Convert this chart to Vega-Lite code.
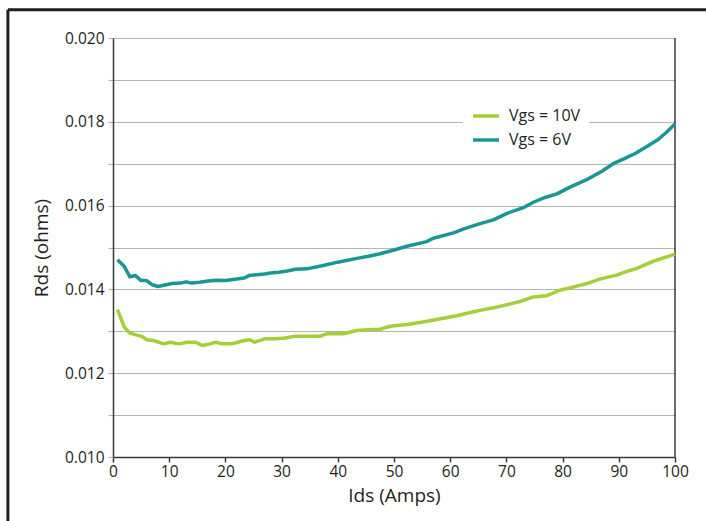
{
  "$schema": "https://vega.github.io/schema/vega-lite/v6.json",
  "width": 562,
  "height": 419,
  "autosize": {"type": "none"},
  "padding": {"left": 113, "top": 38, "right": 31, "bottom": 64},
  "background": "white",
  "config": {
    "view": {"stroke": null},
    "font": "Open Sans",
    "axis": {"labelFont": "Open Sans", "titleFont": "Open Sans", "labelColor": "#231f20", "titleColor": "#231f20", "labelFontSize": 15.5, "titleFontSize": 19, "titleFontWeight": "normal"},
    "legend": {"labelFont": "Open Sans", "labelFontSize": 16, "labelColor": "#231f20"}
  },
  "layer": [
    {
      "data": {"values": [{}]},
      "mark": {"type": "rule", "color": "#231f20", "strokeWidth": 3, "clip": false},
      "encoding": {
        "x": {"datum": -18.7, "type": "quantitative"},
        "x2": {"datum": 106},
        "y": {"datum": 0.020675, "type": "quantitative"}
      }
    },
    {
      "data": {"values": [{}]},
      "mark": {"type": "rule", "color": "#231f20", "strokeWidth": 3, "clip": false},
      "encoding": {
        "x": {"datum": -18.7, "type": "quantitative"},
        "y": {"datum": 0.020675, "type": "quantitative"},
        "y2": {"datum": 0.0078}
      }
    },
    {
      "data": {"values": [{}]},
      "mark": {"type": "rule", "color": "#3a3a3a", "strokeWidth": 1.5, "clip": false},
      "encoding": {
        "x": {"datum": 100, "type": "quantitative"},
        "y": {"datum": 0.010, "type": "quantitative"},
        "y2": {"datum": 0.020}
      }
    },
    {
      "data": {
        "values": [
          {"ids": 0.8, "rds": 0.01352, "series": "Vgs = 10V"},
          {"ids": 1.25, "rds": 0.01336, "series": "Vgs = 10V"},
          {"ids": 2, "rds": 0.01310, "series": "Vgs = 10V"},
          {"ids": 3, "rds": 0.01296, "series": "Vgs = 10V"},
          {"ids": 3.9, "rds": 0.01292, "series": "Vgs = 10V"},
          {"ids": 5.1, "rds": 0.01288, "series": "Vgs = 10V"},
          {"ids": 6, "rds": 0.01280, "series": "Vgs = 10V"},
          {"ids": 7.2, "rds": 0.01278, "series": "Vgs = 10V"},
          {"ids": 9, "rds": 0.01270, "series": "Vgs = 10V"},
          {"ids": 10.2, "rds": 0.01274, "series": "Vgs = 10V"},
          {"ids": 11.7, "rds": 0.01270, "series": "Vgs = 10V"},
          {"ids": 13.2, "rds": 0.01274, "series": "Vgs = 10V"},
          {"ids": 14.7, "rds": 0.01274, "series": "Vgs = 10V"},
          {"ids": 15.9, "rds": 0.01266, "series": "Vgs = 10V"},
          {"ids": 17.2, "rds": 0.01270, "series": "Vgs = 10V"},
          {"ids": 18.3, "rds": 0.01274, "series": "Vgs = 10V"},
          {"ids": 19.5, "rds": 0.01270, "series": "Vgs = 10V"},
          {"ids": 21, "rds": 0.01270, "series": "Vgs = 10V"},
          {"ids": 22.2, "rds": 0.01274, "series": "Vgs = 10V"},
          {"ids": 23.4, "rds": 0.01278, "series": "Vgs = 10V"},
          {"ids": 24.3, "rds": 0.01280, "series": "Vgs = 10V"},
          {"ids": 25.2, "rds": 0.01274, "series": "Vgs = 10V"},
          {"ids": 27, "rds": 0.01282, "series": "Vgs = 10V"},
          {"ids": 28.8, "rds": 0.01282, "series": "Vgs = 10V"},
          {"ids": 30.6, "rds": 0.01284, "series": "Vgs = 10V"},
          {"ids": 32.4, "rds": 0.01288, "series": "Vgs = 10V"},
          {"ids": 34.5, "rds": 0.01288, "series": "Vgs = 10V"},
          {"ids": 36.8, "rds": 0.01288, "series": "Vgs = 10V"},
          {"ids": 38, "rds": 0.01294, "series": "Vgs = 10V"},
          {"ids": 41, "rds": 0.01294, "series": "Vgs = 10V"},
          {"ids": 43.4, "rds": 0.01302, "series": "Vgs = 10V"},
          {"ids": 45.5, "rds": 0.01304, "series": "Vgs = 10V"},
          {"ids": 47.5, "rds": 0.01305, "series": "Vgs = 10V"},
          {"ids": 49.3, "rds": 0.01312, "series": "Vgs = 10V"},
          {"ids": 52.3, "rds": 0.01316, "series": "Vgs = 10V"},
          {"ids": 54.6, "rds": 0.01321, "series": "Vgs = 10V"},
          {"ids": 57.6, "rds": 0.01328, "series": "Vgs = 10V"},
          {"ids": 61.2, "rds": 0.01337, "series": "Vgs = 10V"},
          {"ids": 63, "rds": 0.01343, "series": "Vgs = 10V"},
          {"ids": 65.3, "rds": 0.01350, "series": "Vgs = 10V"},
          {"ids": 67.7, "rds": 0.01356, "series": "Vgs = 10V"},
          {"ids": 70, "rds": 0.01363, "series": "Vgs = 10V"},
          {"ids": 72.4, "rds": 0.01371, "series": "Vgs = 10V"},
          {"ids": 74.8, "rds": 0.01382, "series": "Vgs = 10V"},
          {"ids": 77.2, "rds": 0.01385, "series": "Vgs = 10V"},
          {"ids": 79.5, "rds": 0.01398, "series": "Vgs = 10V"},
          {"ids": 82, "rds": 0.01406, "series": "Vgs = 10V"},
          {"ids": 84.3, "rds": 0.01414, "series": "Vgs = 10V"},
          {"ids": 86.7, "rds": 0.01425, "series": "Vgs = 10V"},
          {"ids": 89.6, "rds": 0.01434, "series": "Vgs = 10V"},
          {"ids": 91.4, "rds": 0.01443, "series": "Vgs = 10V"},
          {"ids": 93.2, "rds": 0.01450, "series": "Vgs = 10V"},
          {"ids": 96.1, "rds": 0.01467, "series": "Vgs = 10V"},
          {"ids": 97.9, "rds": 0.01475, "series": "Vgs = 10V"},
          {"ids": 100, "rds": 0.01484, "series": "Vgs = 10V"},
          {"ids": 0.8, "rds": 0.01471, "series": "Vgs = 6V"},
          {"ids": 2, "rds": 0.01455, "series": "Vgs = 6V"},
          {"ids": 3, "rds": 0.01430, "series": "Vgs = 6V"},
          {"ids": 4, "rds": 0.01433, "series": "Vgs = 6V"},
          {"ids": 5, "rds": 0.01421, "series": "Vgs = 6V"},
          {"ids": 6, "rds": 0.01421, "series": "Vgs = 6V"},
          {"ids": 7, "rds": 0.01411, "series": "Vgs = 6V"},
          {"ids": 8, "rds": 0.01407, "series": "Vgs = 6V"},
          {"ids": 9, "rds": 0.01410, "series": "Vgs = 6V"},
          {"ids": 10.5, "rds": 0.01414, "series": "Vgs = 6V"},
          {"ids": 12, "rds": 0.01415, "series": "Vgs = 6V"},
          {"ids": 13, "rds": 0.01418, "series": "Vgs = 6V"},
          {"ids": 14, "rds": 0.01415, "series": "Vgs = 6V"},
          {"ids": 15.4, "rds": 0.01417, "series": "Vgs = 6V"},
          {"ids": 17, "rds": 0.01420, "series": "Vgs = 6V"},
          {"ids": 18.3, "rds": 0.01422, "series": "Vgs = 6V"},
          {"ids": 20, "rds": 0.01421, "series": "Vgs = 6V"},
          {"ids": 21, "rds": 0.01423, "series": "Vgs = 6V"},
          {"ids": 22, "rds": 0.01425, "series": "Vgs = 6V"},
          {"ids": 23.3, "rds": 0.01427, "series": "Vgs = 6V"},
          {"ids": 24.2, "rds": 0.01433, "series": "Vgs = 6V"},
          {"ids": 25.6, "rds": 0.01435, "series": "Vgs = 6V"},
          {"ids": 27, "rds": 0.01437, "series": "Vgs = 6V"},
          {"ids": 28, "rds": 0.01439, "series": "Vgs = 6V"},
          {"ids": 29.5, "rds": 0.01441, "series": "Vgs = 6V"},
          {"ids": 31, "rds": 0.01444, "series": "Vgs = 6V"},
          {"ids": 32.5, "rds": 0.01448, "series": "Vgs = 6V"},
          {"ids": 34.5, "rds": 0.01449, "series": "Vgs = 6V"},
          {"ids": 37.4, "rds": 0.01457, "series": "Vgs = 6V"},
          {"ids": 40, "rds": 0.01465, "series": "Vgs = 6V"},
          {"ids": 43.4, "rds": 0.01474, "series": "Vgs = 6V"},
          {"ids": 45.5, "rds": 0.01479, "series": "Vgs = 6V"},
          {"ids": 47.5, "rds": 0.01485, "series": "Vgs = 6V"},
          {"ids": 50, "rds": 0.01494, "series": "Vgs = 6V"},
          {"ids": 52.3, "rds": 0.01503, "series": "Vgs = 6V"},
          {"ids": 55.8, "rds": 0.01514, "series": "Vgs = 6V"},
          {"ids": 57, "rds": 0.01522, "series": "Vgs = 6V"},
          {"ids": 60.6, "rds": 0.01535, "series": "Vgs = 6V"},
          {"ids": 62.3, "rds": 0.01544, "series": "Vgs = 6V"},
          {"ids": 65.3, "rds": 0.01557, "series": "Vgs = 6V"},
          {"ids": 67.7, "rds": 0.01566, "series": "Vgs = 6V"},
          {"ids": 70, "rds": 0.01581, "series": "Vgs = 6V"},
          {"ids": 73, "rds": 0.01595, "series": "Vgs = 6V"},
          {"ids": 74.8, "rds": 0.01608, "series": "Vgs = 6V"},
          {"ids": 77, "rds": 0.01620, "series": "Vgs = 6V"},
          {"ids": 79, "rds": 0.01628, "series": "Vgs = 6V"},
          {"ids": 81.3, "rds": 0.01644, "series": "Vgs = 6V"},
          {"ids": 84.3, "rds": 0.01662, "series": "Vgs = 6V"},
          {"ids": 87, "rds": 0.01682, "series": "Vgs = 6V"},
          {"ids": 89, "rds": 0.01700, "series": "Vgs = 6V"},
          {"ids": 91, "rds": 0.01712, "series": "Vgs = 6V"},
          {"ids": 93, "rds": 0.01725, "series": "Vgs = 6V"},
          {"ids": 95, "rds": 0.01741, "series": "Vgs = 6V"},
          {"ids": 97, "rds": 0.01758, "series": "Vgs = 6V"},
          {"ids": 98.5, "rds": 0.01775, "series": "Vgs = 6V"},
          {"ids": 100, "rds": 0.01795, "series": "Vgs = 6V"}
        ]
      },
      "mark": {"type": "line", "strokeWidth": 3.5, "strokeJoin": "round"},
      "encoding": {
        "x": {
          "field": "ids", "type": "quantitative",
          "scale": {"domain": [0, 100], "nice": false, "zero": false},
          "axis": {"title": "Ids (Amps)", "values": [0, 10, 20, 30, 40, 50, 60, 70, 80, 90, 100], "grid": false, "domainColor": "#3a3a3a", "domainWidth": 1.5, "tickColor": "#3a3a3a", "tickWidth": 1.5, "tickSize": 5, "labelPadding": 2, "titlePadding": 7, "labelFlush": false}
        },
        "y": {
          "field": "rds", "type": "quantitative",
          "scale": {"domain": [0.010, 0.020], "nice": false, "zero": false},
          "axis": {"title": "Rds (ohms)", "values": [0.010, 0.011, 0.012, 0.013, 0.014, 0.015, 0.016, 0.017, 0.018, 0.019, 0.020], "format": ".3f", "labelExpr": "round(datum.value * 1000) % 2 == 0 ? datum.label : ''", "grid": true, "gridColor": "#b4b4b4", "gridWidth": 1.2, "domainColor": "#3a3a3a", "domainWidth": 1.5, "tickColor": "#b4b4b4", "tickWidth": 1.2, "tickSize": 5, "labelPadding": 4, "titlePadding": 13, "labelFlush": false}
        },
        "color": {
          "field": "series", "type": "nominal",
          "scale": {"domain": ["Vgs = 10V", "Vgs = 6V"], "range": ["#a6ce39", "#1a9696"]},
          "legend": {"title": null, "orient": "none", "legendX": 350, "legendY": 55, "symbolType": "stroke", "symbolSize": 676, "symbolStrokeWidth": 3.5, "labelOffset": 8, "rowPadding": 1, "padding": 8, "fillColor": "white"}
        }
      }
    }
  ]
}
